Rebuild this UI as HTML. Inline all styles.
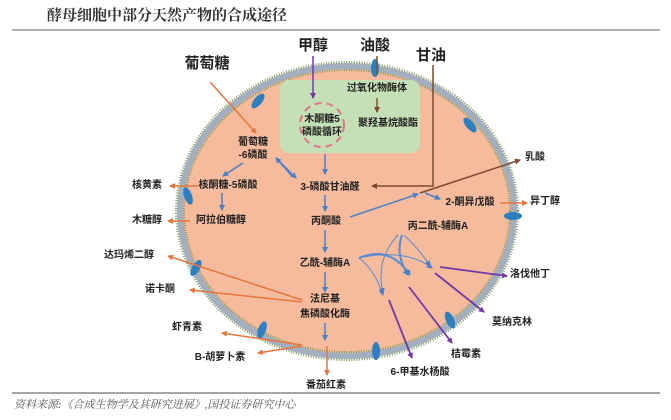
<!DOCTYPE html>
<html><head><meta charset="utf-8"><style>
body{margin:0;background:#fff}
svg{display:block}
text{font-family:"Liberation Sans","Noto Sans CJK SC",sans-serif;font-weight:bold;fill:#222;font-size:10px}
</style></head><body>
<svg width="671" height="420" viewBox="0 0 671 420" xmlns="http://www.w3.org/2000/svg">
<defs>
<marker id="ab" markerWidth="6" markerHeight="6" refX="5" refY="3" orient="auto" markerUnits="userSpaceOnUse"><path d="M0,0L6,3L0,6z" fill="#4a7fc9"/></marker>
<marker id="ao" markerWidth="6" markerHeight="6" refX="5" refY="3" orient="auto" markerUnits="userSpaceOnUse"><path d="M0,0L6,3L0,6z" fill="#e8763a"/></marker>
<marker id="ap" markerWidth="6" markerHeight="6" refX="5" refY="3" orient="auto" markerUnits="userSpaceOnUse"><path d="M0,0L6,3L0,6z" fill="#6f3aa8"/></marker>
<marker id="abr" markerWidth="6" markerHeight="6" refX="5" refY="3" orient="auto" markerUnits="userSpaceOnUse"><path d="M0,0L6,3L0,6z" fill="#7a4a2e"/></marker>
</defs>
<text x="47" y="20" style="font-family:'Liberation Serif','Noto Serif CJK SC',serif;font-size:15px;font-weight:bold;fill:#333">酵母细胞中部分天然产物的合成途径</text>
<line x1="12" y1="30" x2="660" y2="30" stroke="#999" stroke-width="1.5"/>
<!-- cell -->
<ellipse cx="347" cy="211" rx="167" ry="145" fill="#f5bb9c"/>
<ellipse cx="347" cy="211" rx="167" ry="145" fill="none" stroke="#7e9a5a" stroke-width="10" stroke-dasharray="1 1.5"/>
<ellipse cx="347" cy="211" rx="167" ry="145" fill="none" stroke="#a3aebf" stroke-width="6"/>
<!-- proteins -->
<g fill="#2d7fc1">
<ellipse cx="258" cy="101" rx="4" ry="9" transform="rotate(40 258 101)"/>
<ellipse cx="375" cy="68" rx="4" ry="9"/>
<ellipse cx="470" cy="125" rx="4" ry="9" transform="rotate(-40 470 125)"/>
<ellipse cx="188" cy="196" rx="4" ry="9" transform="rotate(-20 188 196)"/>
<ellipse cx="513" cy="216" rx="9" ry="4"/>
<ellipse cx="196" cy="268" rx="4" ry="9" transform="rotate(30 196 268)"/>
<ellipse cx="262" cy="330" rx="4" ry="9" transform="rotate(20 262 330)"/>
<ellipse cx="376" cy="351" rx="4" ry="9"/>
<ellipse cx="450" cy="320" rx="4" ry="9" transform="rotate(-25 450 320)"/>
</g>
<!-- peroxisome -->
<rect x="280" y="80" width="140" height="73" rx="9" fill="#c5e0b6"/>
<circle cx="322" cy="125" r="22" fill="none" stroke="#e0728a" stroke-width="2" stroke-dasharray="7 5"/>
<text x="322" y="122" text-anchor="middle">木酮糖5</text>
<text x="322" y="135" text-anchor="middle">磷酸循环</text>
<text x="377" y="91" text-anchor="middle">过氧化物酶体</text>
<line x1="377" y1="98" x2="377" y2="112" stroke="#7a5a20" stroke-width="1.5" marker-end="url(#abr)"/>
<text x="388" y="126" text-anchor="middle">聚羟基烷酸酯</text>
<!-- top labels -->
<text x="207" y="68" text-anchor="middle" style="font-size:15px">葡萄糖</text>
<text x="313" y="50" text-anchor="middle" style="font-size:15px">甲醇</text>
<text x="375" y="50" text-anchor="middle" style="font-size:15px">油酸</text>
<text x="431" y="60" text-anchor="middle" style="font-size:15px">甘油</text>
<line x1="313" y1="56" x2="313" y2="98" stroke="#6f3aa8" stroke-width="1.5" marker-end="url(#ap)"/>
<line x1="377" y1="56" x2="377" y2="74" stroke="#7a5a20" stroke-width="1.5"/>
<polyline points="433,65 433,186 372,186" fill="none" stroke="#7a4a2e" stroke-width="1.5" marker-end="url(#abr)"/>
<line x1="210" y1="82" x2="256" y2="133" stroke="#e8763a" stroke-width="1.5" marker-end="url(#ao)"/>
<!-- inner labels -->
<text x="253" y="145" text-anchor="middle">葡萄糖</text>
<text x="253" y="158" text-anchor="middle">-6磷酸</text>
<text x="330" y="190" text-anchor="middle">3-磷酸甘油醛</text>
<text x="147" y="188" text-anchor="middle">核黄素</text>
<text x="228" y="188" text-anchor="middle">核酮糖-5磷酸</text>
<text x="147" y="223" text-anchor="middle">木糖醇</text>
<text x="221" y="223" text-anchor="middle">阿拉伯糖醇</text>
<text x="326" y="224" text-anchor="middle">丙酮酸</text>
<text x="438" y="229" text-anchor="middle">丙二酰-辅酶A</text>
<text x="535" y="160" text-anchor="middle">乳酸</text>
<text x="470" y="205" text-anchor="middle">2-酮异戊酸</text>
<text x="545" y="204" text-anchor="middle">异丁醇</text>
<text x="325" y="266" text-anchor="middle">乙酰-辅酶A</text>
<text x="129" y="258" text-anchor="middle">达玛烯二醇</text>
<text x="160" y="292" text-anchor="middle">诺卡酮</text>
<text x="325" y="302" text-anchor="middle">法尼基</text>
<text x="325" y="317" text-anchor="middle">焦磷酸化酶</text>
<text x="530" y="277" text-anchor="middle">洛伐他丁</text>
<text x="512" y="325" text-anchor="middle">莫纳克林</text>
<text x="187" y="330" text-anchor="middle">虾青素</text>
<text x="220" y="360" text-anchor="middle">B-胡萝卜素</text>
<text x="466" y="357" text-anchor="middle">桔霉素</text>
<text x="420" y="375" text-anchor="middle">6-甲基水杨酸</text>
<text x="326" y="388" text-anchor="middle">番茄红素</text>
<!-- blue arrows -->
<g stroke="#4a7fc9" stroke-width="1.5" fill="none" marker-end="url(#ab)">
<line x1="243" y1="163" x2="223" y2="176"/>
<line x1="278" y1="160" x2="296" y2="178"/>
<line x1="292" y1="176" x2="276" y2="158"/>
<line x1="325" y1="154" x2="325" y2="174"/>
<line x1="222" y1="193" x2="222" y2="210"/>
<line x1="325" y1="195" x2="325" y2="211"/>
<line x1="350" y1="217" x2="418" y2="194"/>
<line x1="425" y1="193" x2="440" y2="199"/>
<line x1="325" y1="230" x2="325" y2="252"/>
<line x1="325" y1="272" x2="325" y2="292"/>
<line x1="325" y1="323" x2="325" y2="340"/>
</g>
<g stroke="#5a8cd0" stroke-width="1" fill="none" marker-end="url(#ab)">
<path d="M359,258 Q375,270 383,295"/>
<path d="M359,258 Q390,245 410,275" stroke-width="2"/>
<path d="M359,258 Q405,248 432,268"/>
<path d="M398,235 Q375,260 383,293"/>
<path d="M402,235 Q395,255 408,275" stroke-width="2"/>
<path d="M404,235 Q420,250 430,266"/>
</g>
<line x1="420" y1="193" x2="520" y2="160" stroke="#7a4a2e" stroke-width="1.5" marker-end="url(#abr)"/>
<!-- orange -->
<g stroke="#e8763a" stroke-width="1.5" fill="none" marker-end="url(#ao)">
<line x1="198" y1="186" x2="170" y2="186"/>
<line x1="190" y1="221" x2="168" y2="221"/>
<line x1="500" y1="203" x2="527" y2="203"/>
<line x1="302" y1="300" x2="168" y2="256"/>
<line x1="302" y1="302" x2="190" y2="290"/>
<line x1="302" y1="345" x2="222" y2="333"/>
<line x1="302" y1="346" x2="258" y2="353"/>
<line x1="327" y1="346" x2="327" y2="375"/>
</g>
<!-- purple -->
<g stroke="#6f3aa8" stroke-width="1.8" fill="none" marker-end="url(#ap)">
<line x1="440" y1="267" x2="507" y2="276"/>
<line x1="435" y1="273" x2="484" y2="312"/>
<line x1="409" y1="287" x2="452" y2="343"/>
<line x1="389" y1="300" x2="412" y2="358"/>
</g>
<line x1="12" y1="393" x2="660" y2="393" stroke="#888" stroke-width="1.5"/>
<text x="14" y="408" style="font-family:'Liberation Serif','Noto Serif CJK SC',serif;font-style:italic;font-weight:normal;font-size:11px;fill:#555">资料来源:《合成生物学及其研究进展》,国投证券研究中心</text>
</svg>
</body></html>
